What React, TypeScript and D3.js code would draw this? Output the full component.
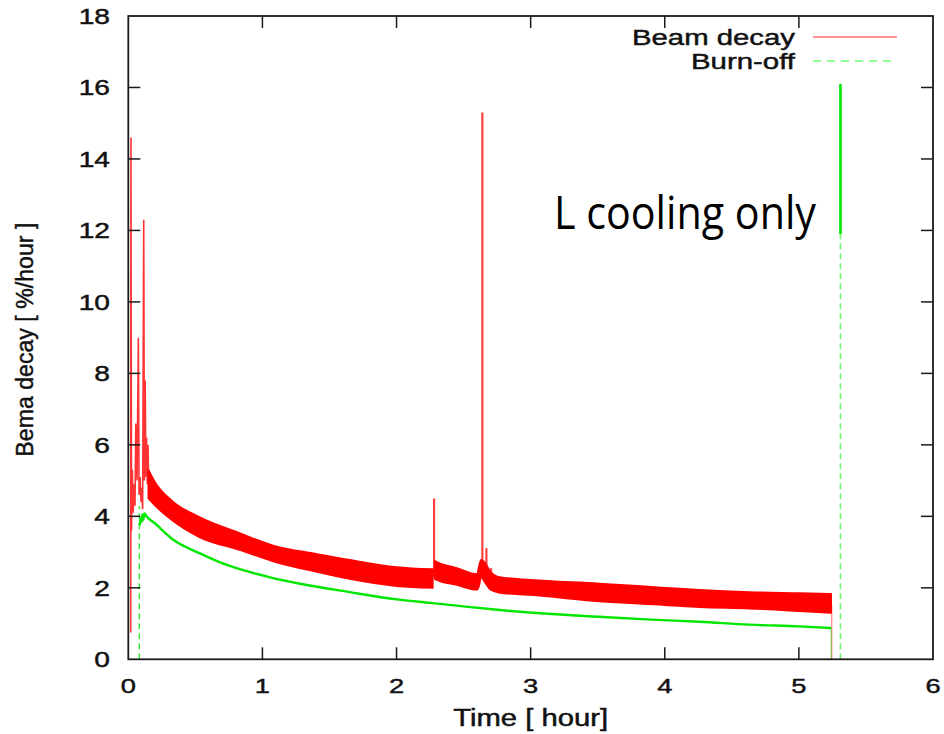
import React from "react";
import * as d3 from "d3";

// ---- data ----
const xTicks = [0, 1, 2, 3, 4, 5, 6];
const yTicks = [0, 2, 4, 6, 8, 10, 12, 14, 16, 18];

// Beam decay: noisy band envelope (time [h], low, high [%/h])
const bandT = [0.15, 0.2, 0.33, 0.53, 0.83, 1.1, 1.4, 1.65, 2.0, 2.27];
const bandLo = [4.5, 4.3, 3.88, 3.42, 3.06, 2.72, 2.45, 2.25, 2.05, 2.0];
const bandHi = [5.3, 4.95, 4.42, 3.98, 3.53, 3.16, 2.95, 2.78, 2.58, 2.52];
const band2T = [2.285, 2.3, 2.45, 2.6, 2.615, 2.63, 2.66, 2.7, 2.77, 3.0, 3.51, 4.0, 4.26, 4.63, 5.0, 5.24];
const band2Lo = [2.25, 2.22, 2.08, 1.95, 2.05, 2.3, 2.15, 1.95, 1.86, 1.8, 1.62, 1.52, 1.46, 1.42, 1.35, 1.3];
const band2Hi = [2.75, 2.72, 2.55, 2.38, 2.6, 2.78, 2.7, 2.45, 2.3, 2.22, 2.12, 2.0, 1.94, 1.88, 1.85, 1.83];

// Beam decay: early spiky trace
const earlyT = [0.018, 0.02, 0.024, 0.03, 0.036, 0.042, 0.05, 0.056, 0.065, 0.075, 0.08, 0.088, 0.095, 0.1, 0.107, 0.115, 0.12, 0.126, 0.131, 0.136, 0.142, 0.147, 0.152];
const earlyV = [0.75, 14.6, 3.6, 5.3, 4.1, 4.9, 4.3, 6.6, 5.0, 9.0, 4.6, 5.1, 4.4, 4.8, 4.2, 12.3, 5.0, 7.8, 5.1, 6.2, 4.9, 6.0, 5.0];

// Beam decay: isolated spikes (time, base, top)
const spikeT = [2.28, 2.64, 2.67, 2.705];
const spikeBase = [2.3, 2.35, 2.3, 2.2];
const spikeTop = [4.5, 15.3, 3.11, 2.55];
const beamEndT = 5.245;
const beamEndV = 1.5;

// Burn-off curve
const burnT = [0.085, 0.092, 0.1, 0.106, 0.112, 0.12, 0.135, 0.2, 0.33, 0.53, 0.68, 0.85, 1.05, 1.3, 1.65, 2.02, 2.25, 2.5, 2.77, 3.1, 3.51, 3.9, 4.26, 4.63, 5.0, 5.24];
const burnV = [3.75, 3.95, 3.85, 4.05, 3.9, 4.08, 4.0, 3.8, 3.36, 2.97, 2.72, 2.5, 2.3, 2.1, 1.88, 1.67, 1.58, 1.48, 1.38, 1.28, 1.19, 1.11, 1.05, 0.97, 0.92, 0.875];
const burnStartT = 0.082;
const burnStartTop = 4.29;
const burnEndT = 5.31;
const burnEndSolidLo = 11.9;
const burnEndTop = 16.1;

const legendLabels = ["Beam decay", "Burn-off"];
const yTitle = "Bema decay [ %/hour ]";
const xTitle = "Time [ hour]";
const note = "L cooling only";

const RED = "#ff0000";
const GREEN = "#00e600";
const FONT = "'Liberation Sans', Arial, sans-serif";

export default function App() {
  const x = d3.scaleLinear().domain([0, 6]).range([128.3, 933]);
  const y = d3.scaleLinear().domain([0, 18]).range([659.3, 16]);

  const mkBand = (ts: number[], lo: number[], hi: number[]) =>
    d3
      .area<number>()
      .curve(d3.curveMonotoneX)
      .x((_, i) => x(ts[i]))
      .y0((_, i) => y(lo[i]))
      .y1((_, i) => y(hi[i]))(ts) || "";
  const early = d3
    .line<number>()
    .x((_, i) => x(earlyT[i]))
    .y((v) => y(v));
  const burn = d3
    .line<number>()
    .curve(d3.curveMonotoneX)
    .x((_, i) => x(burnT[i]))
    .y((v) => y(v));

  const L = x(0), R = x(6), T = y(18), B = y(0);
  const tickLen = 12;
  const txt = { fontFamily: FONT, fill: "#111", stroke: "#111", strokeWidth: 0.45 };

  return (
    <svg width={944} height={734} style={{ display: "block", position: "absolute", left: 0, top: 0, background: "#fff" }}>
      <rect width={944} height={734} fill="#fff" />
      {/* data */}
      <path d={mkBand(bandT, bandLo, bandHi)} fill={RED} stroke={RED} strokeWidth={1.8} strokeLinejoin="round" />
      <path d={mkBand(band2T, band2Lo, band2Hi)} fill={RED} stroke={RED} strokeWidth={1.8} strokeLinejoin="round" />
      <path d={early(earlyV) || ""} fill="none" stroke={RED} strokeWidth={1.6} strokeOpacity={0.8} />
      {spikeT.map((t, i) => (
        <line key={i} x1={x(t)} x2={x(t)} y1={y(spikeBase[i])} y2={y(spikeTop[i])} stroke={RED} strokeWidth={2.2} strokeOpacity={0.75} />
      ))}
      <line x1={x(beamEndT)} x2={x(beamEndT)} y1={y(beamEndV)} y2={y(0)} stroke={RED} strokeWidth={1.2} strokeOpacity={0.5} />
      <line x1={x(burnStartT)} x2={x(burnStartT)} y1={y(0)} y2={y(burnStartTop)} stroke={GREEN} strokeWidth={1.4} strokeDasharray="6,4" strokeOpacity={0.8} />
      <path d={burn(burnV) || ""} fill="none" stroke={GREEN} strokeWidth={2.4} />
      <line x1={x(burnT[burnT.length - 1])} x2={x(burnT[burnT.length - 1])} y1={y(burnV[burnV.length - 1])} y2={y(0)} stroke={GREEN} strokeWidth={1.2} strokeOpacity={0.5} />
      <line x1={x(burnEndT)} x2={x(burnEndT)} y1={y(0)} y2={y(burnEndSolidLo)} stroke={GREEN} strokeWidth={1.6} strokeDasharray="6,4" strokeOpacity={0.55} />
      <line x1={x(burnEndT)} x2={x(burnEndT)} y1={y(burnEndSolidLo)} y2={y(burnEndTop)} stroke={GREEN} strokeWidth={2.6} />

      {/* frame */}
      <rect x={L} y={T} width={R - L} height={B - T} fill="none" stroke="#1a1a1a" strokeWidth={1.8} />
      {xTicks.slice(1, -1).map((t) => (
        <g key={"xt" + t}>
          <line x1={x(t)} x2={x(t)} y1={B} y2={B - tickLen} stroke="#1a1a1a" strokeWidth={1.5} />
          <line x1={x(t)} x2={x(t)} y1={T} y2={T + tickLen} stroke="#1a1a1a" strokeWidth={1.5} />
        </g>
      ))}
      {yTicks.slice(1, -1).map((v) => (
        <g key={"yt" + v}>
          <line x1={L} x2={L + tickLen} y1={y(v)} y2={y(v)} stroke="#1a1a1a" strokeWidth={1.5} />
          <line x1={R} x2={R - tickLen} y1={y(v)} y2={y(v)} stroke="#1a1a1a" strokeWidth={1.5} />
        </g>
      ))}
      {/* tick labels */}
      {xTicks.map((t) => (
        <text key={"xl" + t} transform={`translate(${x(t)},693) scale(1.3,1)`} textAnchor="middle" fontSize={21} {...txt}>
          {t}
        </text>
      ))}
      {yTicks.map((v) => (
        <text key={"yl" + v} transform={`translate(110,${y(v) + 8}) scale(1.28,1)`} textAnchor="end" fontSize={22} {...txt}>
          {v}
        </text>
      ))}
      {/* titles */}
      <text x={(L + R) / 2} y={726} textAnchor="middle" fontSize={23} textLength={155} lengthAdjust="spacingAndGlyphs" {...txt}>
        {xTitle}
      </text>
      <text transform={`translate(33,${(T + B) / 2 + 2}) rotate(-90)`} textAnchor="middle" fontSize={23} textLength={234} lengthAdjust="spacingAndGlyphs" {...txt}>
        {yTitle}
      </text>
      {/* legend */}
      <text x={795} y={45} textAnchor="end" fontSize={22} textLength={163} lengthAdjust="spacingAndGlyphs" {...txt}>
        {legendLabels[0]}
      </text>
      <line x1={813} x2={897} y1={37} y2={37} stroke="#ff7070" strokeWidth={1.5} />
      <text x={795} y={69} textAnchor="end" fontSize={22} textLength={104} lengthAdjust="spacingAndGlyphs" {...txt}>
        {legendLabels[1]}
      </text>
      <line x1={813} x2={897} y1={61} y2={61} stroke="#70ff70" strokeWidth={1.5} strokeDasharray="8,6" />
      {/* annotation */}
      <text x={554} y={229} fontFamily="'Open Sans', 'Noto Sans', sans-serif" fontSize={46} textLength={262} lengthAdjust="spacingAndGlyphs" fill="#000">
        {note}
      </text>
    </svg>
  );
}
